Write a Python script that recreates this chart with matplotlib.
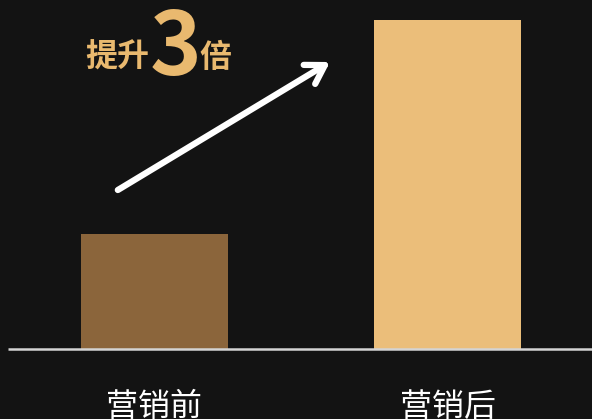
import matplotlib
matplotlib.use('Agg')
from matplotlib import pyplot as plt

plt.rcParams['font.family'] = ['Noto Sans CJK SC', 'DejaVu Sans']

# данные
labels = ['营销前', '营销后']
values = [35, 100]
colors = ['#8B653B', '#EBBE7A']
title_parts = ['提升', '3', '倍']

BG = '#131313'
GOLD = '#E9B96F'


def main():
    fig = plt.figure(figsize=(5.92, 4.19), dpi=100, facecolor=BG)
    ax = fig.add_axes([0, 0.1659, 1, 1 - 0.1659])
    ax.set_facecolor(BG)

    x = list(range(len(values)))
    ax.bar(x, values, width=0.5, color=colors, zorder=2)
    ax.set_xlim(-0.527, 1.493)
    ax.set_ylim(0, 106.07)

    # базовая линия
    ax.plot([-0.5, 1.493], [0, 0], color='#d4d4d4', linewidth=1.8,
            solid_capstyle='butt', zorder=3, clip_on=False)

    for s in ax.spines.values():
        s.set_visible(False)
    ax.set_yticks([])
    ax.set_xticks(x)
    ax.set_xticklabels(labels, fontsize=23, color='white')
    ax.tick_params(axis='x', length=0, pad=30)

    # стрелка
    ax.annotate('', xy=(0.599, values[1] * 0.8725), xytext=(-0.125, values[1] * 0.484),
                arrowprops=dict(arrowstyle='->,head_length=1.3,head_width=0.8',
                                color='white', lw=4.5, shrinkA=0, shrinkB=0))

    # надпись
    fig.text(85 / 592, 1 - 58 / 419, title_parts[0], fontsize=23, fontweight='bold',
             color=GOLD, ha='left', va='center')
    fig.text(150 / 592, 1 - 75 / 419, title_parts[1], fontsize=63, fontweight='black',
             color=GOLD, ha='left', va='baseline')
    fig.text(199 / 592, 1 - 58 / 419, title_parts[2], fontsize=23, fontweight='bold',
             color=GOLD, ha='left', va='center')

    fig.savefig('out.png', dpi=100, facecolor=BG)


if __name__ == '__main__':
    main()
